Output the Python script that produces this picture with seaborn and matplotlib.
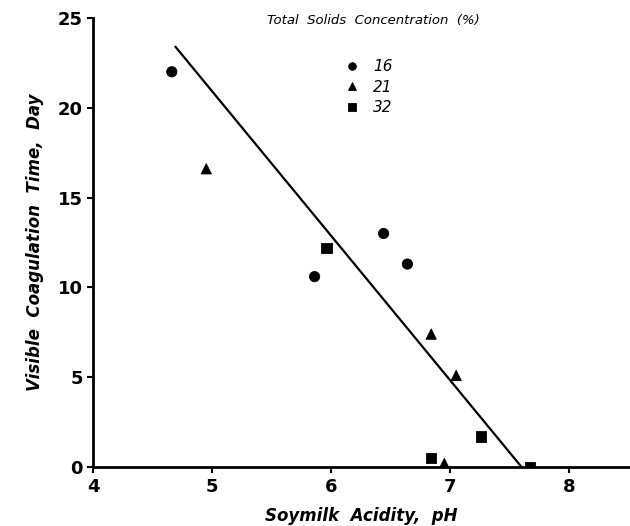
import matplotlib
matplotlib.use("Agg")
import matplotlib.pyplot as plt
import seaborn as sns
import pandas as pd

# Data
ph_16 = [4.66, 5.86, 6.44, 6.64]
day_16 = [22.0, 10.6, 13.0, 11.3]
ph_21 = [4.95, 6.84, 7.05, 6.95]
day_21 = [16.6, 7.4, 5.1, 0.2]
ph_32 = [5.96, 6.84, 7.26, 7.67]
day_32 = [12.2, 0.5, 1.7, 0.0]
fit_x = [4.69, 7.60]
fit_y = [23.4, 0.0]
series_labels = ["16", "21", "32"]
x_ticks = [4, 5, 6, 7, 8]
y_ticks = [0, 5, 10, 15, 20, 25]

df = pd.DataFrame({
    "pH": ph_16 + ph_21 + ph_32,
    "day": day_16 + day_21 + day_32,
    "TS": [series_labels[0]] * len(ph_16) + [series_labels[1]] * len(ph_21) + [series_labels[2]] * len(ph_32),
})

sns.set_style("ticks")
plt.rcParams["font.family"] = ["DejaVu Sans"]
plt.rcParams["text.color"] = "black"
plt.rcParams["axes.labelcolor"] = "black"
plt.rcParams["xtick.color"] = "black"
plt.rcParams["ytick.color"] = "black"
plt.rcParams["axes.edgecolor"] = "black"

fig = plt.figure(figsize=(6.3, 5.26), dpi=100)
ax = fig.add_axes([0.148, 0.112, 0.85, 0.854])

sns.lineplot(x=fit_x, y=fit_y, ax=ax, color="black", linewidth=1.6)
sns.scatterplot(data=df, x="pH", y="day", style="TS", markers={"16": "o", "21": "^", "32": "s"},
                color="black", s=55, edgecolor="black", ax=ax, legend=True)

ax.set_xlim(4, 8.5)
ax.set_ylim(0, 25)
ax.set_xticks(x_ticks)
ax.set_yticks(y_ticks)
ax.tick_params(axis="both", labelsize=13, width=1.5, length=4, direction="out")
for lbl in ax.get_xticklabels() + ax.get_yticklabels():
    lbl.set_fontweight("bold")
sns.despine(ax=ax)
for sp in ["left", "bottom"]:
    ax.spines[sp].set_linewidth(2)

ax.set_xlabel("Soymilk  Acidity,  pH", fontsize=12, fontstyle="italic", fontweight="bold", labelpad=8)
ax.set_ylabel("Visible  Coagulation  Time,  Day", fontsize=12, fontstyle="italic", fontweight="bold", labelpad=10)

handles, labels = ax.get_legend_handles_labels()
for h in handles:
    try:
        h.set_markersize(5.5)
    except Exception:
        pass
leg = ax.legend(handles, labels, frameon=False,
                loc="upper left", bbox_to_anchor=(0.44, 0.925), handletextpad=0.4,
                labelspacing=0.35, borderpad=0, prop={"style": "italic", "size": 11})
ax.text(0.325, 0.995, "Total  Solids  Concentration  (%)", transform=ax.transAxes,
        fontsize=9.5, fontstyle="italic", ha="left", va="center")
fig.savefig("out.png", dpi=100)
